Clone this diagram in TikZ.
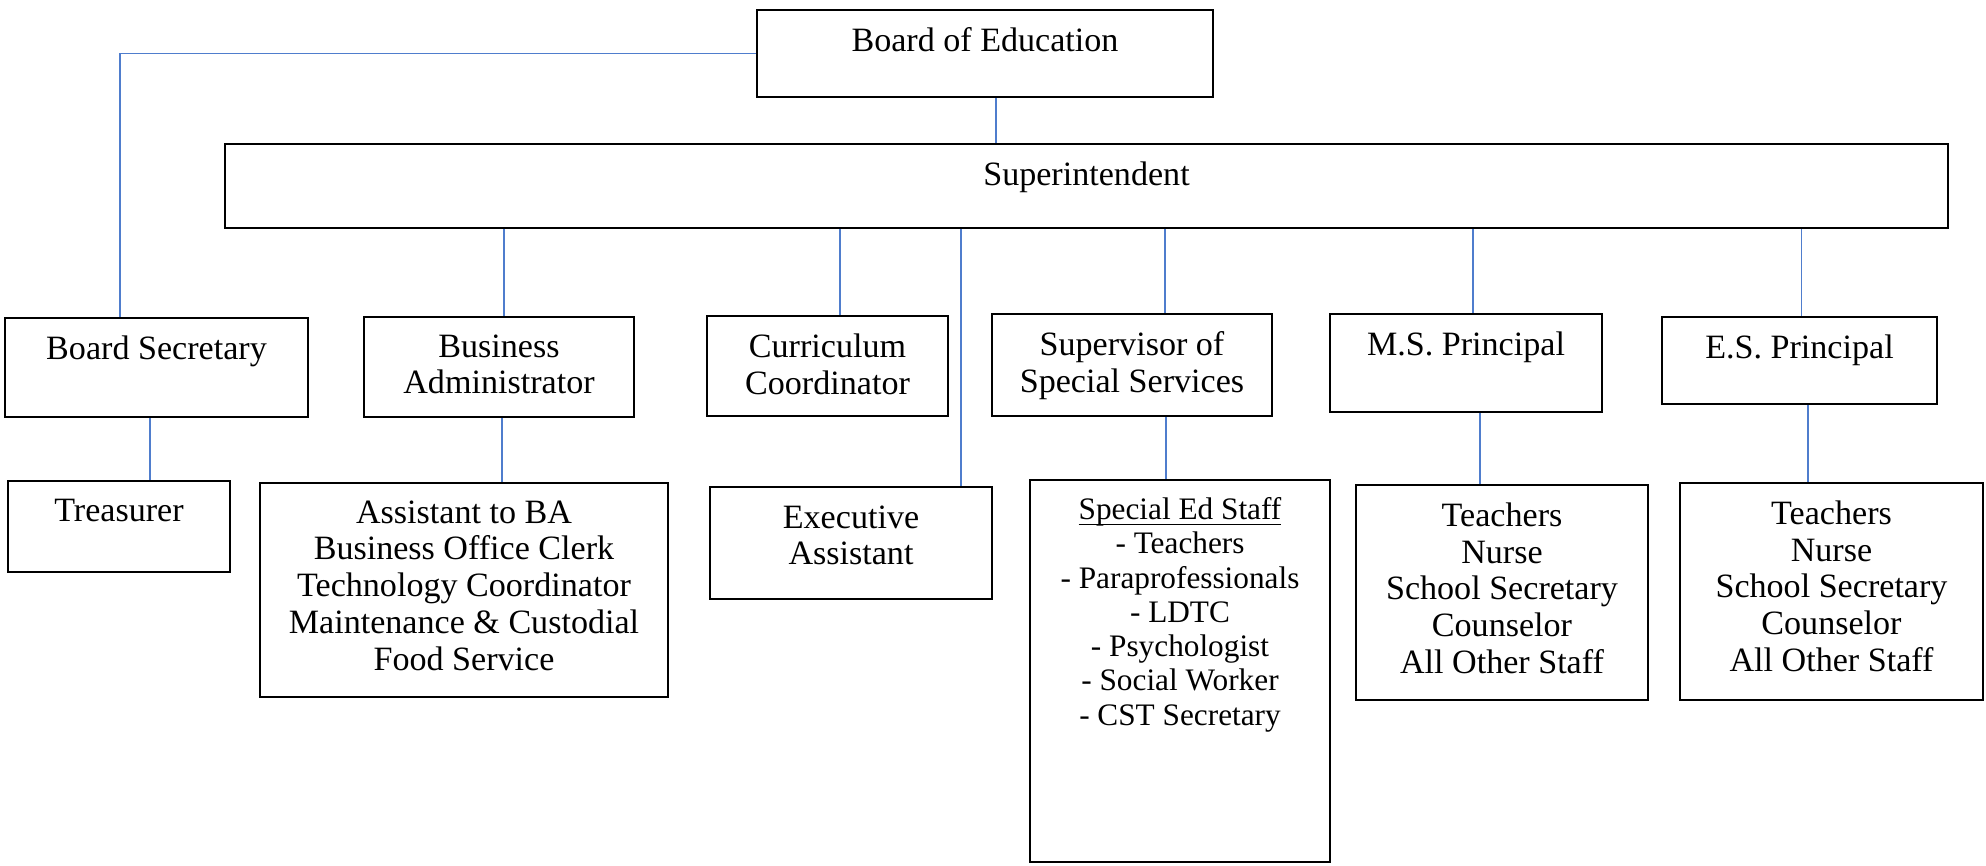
\documentclass[tikz,border=0pt]{standalone}
\usepackage{fontspec}
\setmainfont{Liberation Serif}
\usepackage{xcolor}
\usetikzlibrary{positioning}
\definecolor{LinkBlue}{RGB}{79,125,205}
\newcommand{\UnderText}[1]{\setbox0\hbox{#1}\rlap{\rule[-1.6pt]{\wd0}{0.4pt}}\box0}

\begin{document}
\begin{tikzpicture}[
    % Styles
    office/.style={% For the position boxes
        rectangle,
        draw,
        line width=0.7pt,
        },
    title/.style={% For the text inside a box
        align=center,
        inner sep=0pt,
        font=\fontsize{9.7pt}{10.5pt}\selectfont,
        },
    roster/.style={% For the smaller special ed list
        title,
        font=\fontsize{8.9pt}{9.75pt}\selectfont,
        },
    Link/.style={% Thin blue lines between boxes
        draw=LinkBlue,
        line width=0.45pt,
        },
    ]

    \useasboundingbox (0,0) rectangle (19.86,-8.65);

    % Draw the boxes
    % top
    \node [office, minimum width=4.56cm, minimum height=0.87cm] (board) at (9.85,-0.535) {};
    \node [office, minimum width=17.23cm, minimum height=0.84cm] (super) at (10.865,-1.86) {};
    % second row
    \node [office, minimum width=3.03cm, minimum height=0.99cm] (bsec) at (1.565,-3.675) {};
    \node [office, minimum width=2.70cm, minimum height=1.00cm] (badm) at (4.99,-3.67) {};
    \node [office, minimum width=2.41cm, minimum height=1.00cm] (curr) at (8.275,-3.66) {};
    \node [office, minimum width=2.80cm, minimum height=1.02cm] (ssup) at (11.32,-3.65) {};
    \node [office, minimum width=2.72cm, minimum height=0.98cm] (msp) at (14.66,-3.63) {};
    \node [office, minimum width=2.75cm, minimum height=0.87cm] (esp) at (17.995,-3.605) {};
    % bottom row
    \node [office, minimum width=2.22cm, minimum height=0.91cm] (treas) at (1.19,-5.265) {};
    \node [office, minimum width=4.08cm, minimum height=2.14cm] (bastaff) at (4.64,-5.90) {};
    \node [office, minimum width=2.82cm, minimum height=1.12cm] (exec) at (8.51,-5.43) {};
    \node [office, minimum width=3.00cm, minimum height=3.82cm] (sped) at (11.80,-6.71) {};
    \node [office, minimum width=2.92cm, minimum height=2.15cm] (msstaff) at (15.02,-5.925) {};
    \node [office, minimum width=3.03cm, minimum height=2.17cm] (esstaff) at (18.315,-5.915) {};

    % Text in the boxes
    \node [title, below=1.8mm of board.north] (boardtxt) {Board of Education};
    \node [title, below=1.8mm of super.north] (supertxt) {Superintendent};
    \node [title, below=1.8mm of bsec.north] (bsectxt) {Board Secretary};
    \node [title, below=1.8mm of badm.north] (badmtxt) {Business\\Administrator};
    \node [title, below=1.8mm of curr.north] (currtxt) {Curriculum\\Coordinator};
    \node [title, below=1.8mm of ssup.north] (ssuptxt) {Supervisor of\\Special Services};
    \node [title, below=1.8mm of msp.north] (msptxt) {M.S. Principal};
    \node [title, below=1.8mm of esp.north] (esptxt) {E.S. Principal};
    \node [title, below=1.9mm of treas.north] (treastxt) {Treasurer};
    \node [title, below=1.8mm of bastaff.north] (bastafftxt) {Assistant to BA\\Business Office Clerk\\Technology Coordinator\\Maintenance \& Custodial\\Food Service};
    \node [title, below=1.9mm of exec.north] (exectxt) {Executive\\Assistant};
    \node [roster, below=1.8mm of sped.north] (spedtxt) {\UnderText{Special Ed Staff}\\- Teachers\\- Paraprofessionals\\- LDTC\\- Psychologist\\- Social Worker\\- CST Secretary};
    \node [title, below=1.8mm of msstaff.north] (msstafftxt) {Teachers\\Nurse\\School Secretary\\Counselor\\All Other Staff};
    \node [title, below=1.8mm of esstaff.north] (esstafftxt) {Teachers\\Nurse\\School Secretary\\Counselor\\All Other Staff};

    % Draw the lines
    % board
    \draw [Link] (board.west) -| ([xshift=-3.65mm]bsec.north);
    \draw [Link] ([xshift=1.1mm]board.south) -- ([xshift=1.1mm]board.south |- super.north);
    % superintendent
    \draw [Link] ([xshift=0.5mm]badm.north) -- ([xshift=0.5mm]badm.north |- super.south);
    \draw [Link] ([xshift=1.25mm]curr.north) -- ([xshift=1.25mm]curr.north |- super.south);
    \draw [Link] ([xshift=-3.2mm]exec.north east) -- ([xshift=-3.2mm]exec.north east |- super.south);
    \draw [Link] ([xshift=3.3mm]ssup.north) -- ([xshift=3.3mm]ssup.north |- super.south);
    \draw [Link] ([xshift=0.7mm]msp.north) -- ([xshift=0.7mm]msp.north |- super.south);
    \draw [Link] ([xshift=0.2mm]esp.north) -- ([xshift=0.2mm]esp.north |- super.south);
    % staff
    \draw [Link] ([xshift=-0.65mm]bsec.south) -- ([xshift=-0.65mm]bsec.south |- treas.north);
    \draw [Link] ([xshift=0.3mm]badm.south) -- ([xshift=0.3mm]badm.south |- bastaff.north);
    \draw [Link] ([xshift=3.4mm]ssup.south) -- ([xshift=3.4mm]ssup.south |- sped.north);
    \draw [Link] ([xshift=1.4mm]msp.south) -- ([xshift=1.4mm]msp.south |- msstaff.north);
    \draw [Link] ([xshift=0.85mm]esp.south) -- ([xshift=0.85mm]esp.south |- esstaff.north);

\end{tikzpicture}
\end{document}
